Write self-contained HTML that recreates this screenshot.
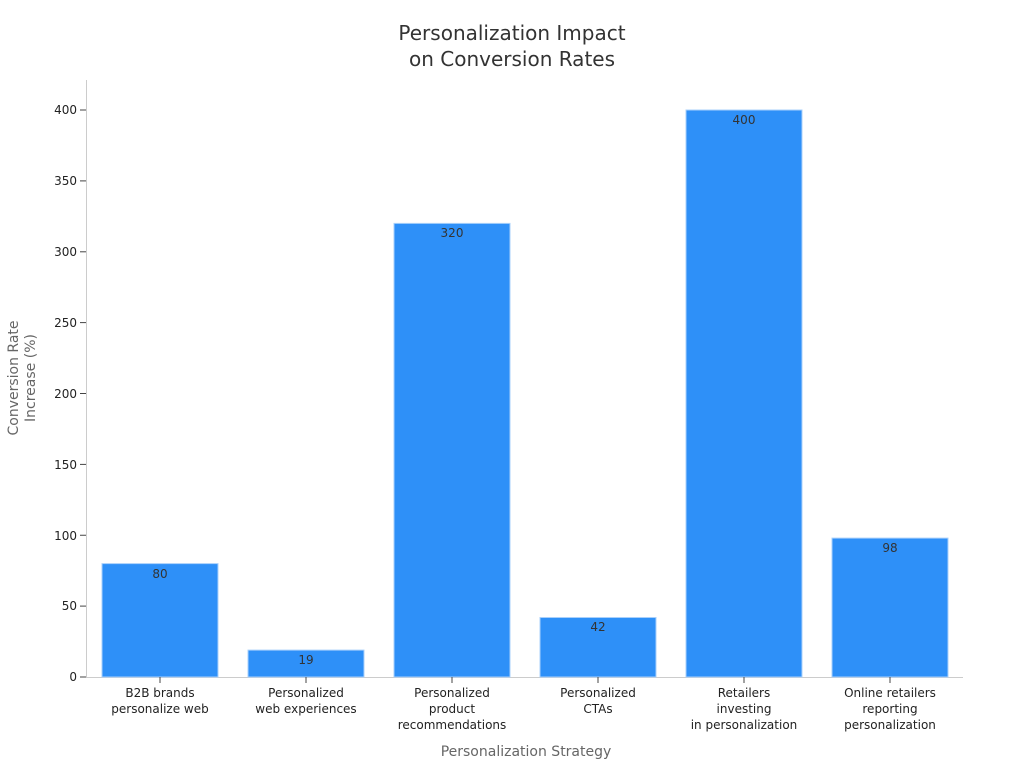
<!DOCTYPE html>
<html><head><meta charset="utf-8"><style>
html,body{margin:0;padding:0;background:#fff;}
svg text{font-family:"DejaVu Sans","Liberation Sans",sans-serif;}
</style></head><body>
<svg width="1024" height="768" xmlns="http://www.w3.org/2000/svg">
<rect width="1024" height="768" fill="#fff"/>
<text x="512" y="40" text-anchor="middle" font-size="20" fill="#333">Personalization Impact</text>
<text x="512" y="66" text-anchor="middle" font-size="20" fill="#333">on Conversion Rates</text>
<line x1="86.5" y1="80" x2="86.5" y2="677" stroke="#ccc"/>
<line x1="86" y1="677.5" x2="963" y2="677.5" stroke="#ccc"/>
<g font-size="12" fill="#222" text-anchor="end">
<text x="77" y="681">0</text><line x1="80" x2="86" y1="677" y2="677" stroke="#444"/>
<text x="77" y="540">100</text><line x1="80" x2="86" y1="535.25" y2="535.25" stroke="#444"/>
<text x="77" y="610">50</text><line x1="80" x2="86" y1="606.1" y2="606.1" stroke="#444"/>
<text x="77" y="469">150</text><line x1="80" x2="86" y1="464.4" y2="464.4" stroke="#444"/>
<text x="77" y="398">200</text><line x1="80" x2="86" y1="393.5" y2="393.5" stroke="#444"/>
<text x="77" y="327">250</text><line x1="80" x2="86" y1="322.6" y2="322.6" stroke="#444"/>
<text x="77" y="256">300</text><line x1="80" x2="86" y1="251.8" y2="251.8" stroke="#444"/>
<text x="77" y="185">350</text><line x1="80" x2="86" y1="180.9" y2="180.9" stroke="#444"/>
<text x="77" y="114">400</text><line x1="80" x2="86" y1="110" y2="110" stroke="#444"/>
</g>
<text transform="translate(18,378) rotate(-90)" text-anchor="middle" font-size="14" fill="#666">Conversion Rate</text>
<text transform="translate(35,378) rotate(-90)" text-anchor="middle" font-size="14" fill="#666">Increase (%)</text>
<g fill="#2e90f8" stroke="#a9d0fb" stroke-width="1">
<rect x="102" y="563.6" width="116" height="113.4"/>
<rect x="248" y="650.1" width="116" height="26.9"/>
<rect x="394" y="223.4" width="116" height="453.6"/>
<rect x="540" y="617.5" width="116" height="59.5"/>
<rect x="686" y="110" width="116" height="567"/>
<rect x="832" y="538.1" width="116" height="138.9"/>
</g>
<g font-size="12" fill="#333" text-anchor="middle">
<text x="160" y="578">80</text>
<text x="306" y="664">19</text>
<text x="452" y="237">320</text>
<text x="598" y="631">42</text>
<text x="744" y="124">400</text>
<text x="890" y="552">98</text>
</g>
<g stroke="#444"><line x1="160" x2="160" y1="677" y2="683"/><line x1="306" x2="306" y1="677" y2="683"/><line x1="452" x2="452" y1="677" y2="683"/><line x1="598" x2="598" y1="677" y2="683"/><line x1="744" x2="744" y1="677" y2="683"/><line x1="890" x2="890" y1="677" y2="683"/></g>
<g font-size="12" fill="#222" text-anchor="middle">
<text x="160" y="697">B2B brands</text><text x="160" y="713">personalize web</text>
<text x="306" y="697">Personalized</text><text x="306" y="713">web experiences</text>
<text x="452" y="697">Personalized</text><text x="452" y="713">product</text><text x="452" y="729">recommendations</text>
<text x="598" y="697">Personalized</text><text x="598" y="713">CTAs</text>
<text x="744" y="697">Retailers</text><text x="744" y="713">investing</text><text x="744" y="729">in personalization</text>
<text x="890" y="697">Online retailers</text><text x="890" y="713">reporting</text><text x="890" y="729">personalization</text>
</g>
<text x="526" y="756" text-anchor="middle" font-size="14" fill="#666">Personalization Strategy</text>
</svg>
</body></html>
